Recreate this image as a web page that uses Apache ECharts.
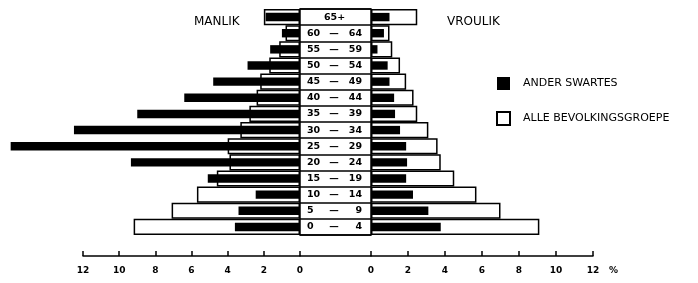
<!DOCTYPE html>
<html>
<head>
<meta charset="utf-8">
<script src="https://cdn.jsdelivr.net/npm/echarts@6/dist/echarts.min.js"></script>
<style>
  html, body { margin: 0; padding: 0; background: #fff; }
  #chart { width: 698px; height: 283px; }
</style>
</head>
<body>
<div id="chart"></div>
<script>
// ouderdomsgroepe, van onder na bo
var ageGroups = ['0-4', '5-9', '10-14', '15-19', '20-24', '25-29', '30-34', '35-39', '40-44', '45-49', '50-54', '55-59', '60-64', '65+']
// persentasies
var manlikAlle = [9.2, 7.1, 5.7, 4.6, 3.9, 4.0, 3.3, 2.8, 2.4, 2.2, 1.7, 1.15, 0.8, 2.0]
var manlikAnder = [3.6, 3.4, 2.45, 5.1, 9.35, 16.0, 12.5, 9.0, 6.4, 4.8, 2.9, 1.65, 1.0, 1.9]
var vroulikAlle = [9.1, 7.0, 5.7, 4.5, 3.77, 3.6, 3.1, 2.5, 2.3, 1.9, 1.57, 1.15, 1.0, 2.5]
var vroulikAnder = [3.77, 3.1, 2.27, 1.9, 1.95, 1.9, 1.57, 1.3, 1.25, 1.0, 0.9, 0.35, 0.7, 1.0]

var font = 'DejaVu Sans'
var gridTop = 9
var gridHeight = 226

var chart = echarts.init(document.getElementById('chart'))

function scaleAxis(grid, inverse) {
  return {
    gridIndex: grid,
    type: 'value',
    inverse: inverse,
    min: 0,
    max: 12,
    interval: 2,
    offset: 21,
    axisLine: { show: true, lineStyle: { color: '#000', width: 1.5 } },
    axisTick: { show: true, inside: true, length: 5, lineStyle: { color: '#000', width: 1.5 } },
    axisLabel: { margin: 10, fontSize: 9, fontWeight: 'bold', color: '#000', fontFamily: font },
    splitLine: { show: false }
  }
}

function hiddenY(grid) {
  return { gridIndex: grid, type: 'category', data: ageGroups, show: false }
}

var xRight = scaleAxis(2, false)
xRight.name = '%'
xRight.nameLocation = 'end'
xRight.nameGap = 16
xRight.nameTextStyle = { fontSize: 9, fontWeight: 'bold', color: '#000', fontFamily: font, verticalAlign: 'top', padding: [10, 0, 0, 0] }

var whiteStyle = { color: '#fff', borderColor: '#000', borderWidth: 1.5 }
var blackStyle = { color: '#000' }
var ageText = { fontSize: 9.5, fontWeight: 'bold', fontFamily: font, color: '#000' }

var option = {
  animation: false,
  title: [
    { text: 'MANLIK', left: 189, top: 11, textStyle: { fontSize: 12, fontWeight: 'normal', color: '#000', fontFamily: font } },
    { text: 'VROULIK', left: 442, top: 11, textStyle: { fontSize: 12, fontWeight: 'normal', color: '#000', fontFamily: font } }
  ],
  legend: {
    orient: 'vertical',
    left: 491,
    top: 72,
    itemWidth: 13,
    itemHeight: 13,
    itemGap: 21,
    icon: 'rect',
    data: ['ANDER SWARTES', 'ALLE BEVOLKINGSGROEPE'],
    textStyle: { fontSize: 11, color: '#000', fontFamily: font, padding: [0, 0, 0, 8] }
  },
  grid: [
    { left: 83, width: 217, top: gridTop, height: gridHeight },
    { left: 300, width: 71, top: gridTop, height: gridHeight, show: true, borderColor: '#000', borderWidth: 1.5, backgroundColor: 'transparent' },
    { left: 371, width: 222, top: gridTop, height: gridHeight }
  ],
  xAxis: [
    scaleAxis(0, true),
    {
      gridIndex: 1, type: 'value', min: 0, max: 1, offset: 21,
      axisLine: { show: true, lineStyle: { color: '#000', width: 1.5 } },
      axisTick: { show: false }, axisLabel: { show: false }, splitLine: { show: false }
    },
    xRight
  ],
  yAxis: [
    hiddenY(0),
    hiddenY(0),
    {
      gridIndex: 1,
      type: 'category',
      data: ageGroups,
      axisLine: { show: false },
      axisTick: { show: false },
      splitLine: { show: true, interval: 0, lineStyle: { color: '#000', width: 1.5 } },
      axisLabel: {
        inside: true,
        interval: 0,
        margin: 7,
        formatter: function (v) {
          if (v === '65+') return '{m|65+}'
          var p = v.split('-')
          return '{a|' + p[0] + '}{b|—}{c|' + p[1] + '}'
        },
        rich: {
          a: Object.assign({ width: 20, align: 'left' }, ageText),
          b: Object.assign({ width: 14, align: 'center' }, ageText),
          c: Object.assign({ width: 21, align: 'right' }, ageText),
          m: Object.assign({ width: 55, align: 'center' }, ageText)
        }
      }
    },
    hiddenY(2),
    hiddenY(2)
  ],
  series: [
    { name: 'ALLE BEVOLKINGSGROEPE', type: 'bar', xAxisIndex: 0, yAxisIndex: 0, barWidth: '100%', data: manlikAlle, itemStyle: whiteStyle },
    { name: 'ANDER SWARTES', type: 'bar', xAxisIndex: 0, yAxisIndex: 1, barWidth: '52%', clip: false, data: manlikAnder, itemStyle: blackStyle },
    { name: 'ALLE BEVOLKINGSGROEPE', type: 'bar', xAxisIndex: 2, yAxisIndex: 3, barWidth: '100%', data: vroulikAlle, itemStyle: whiteStyle },
    { name: 'ANDER SWARTES', type: 'bar', xAxisIndex: 2, yAxisIndex: 4, barWidth: '52%', clip: false, data: vroulikAnder, itemStyle: blackStyle }
  ]
}

chart.setOption(option)
</script>
</body>
</html>
